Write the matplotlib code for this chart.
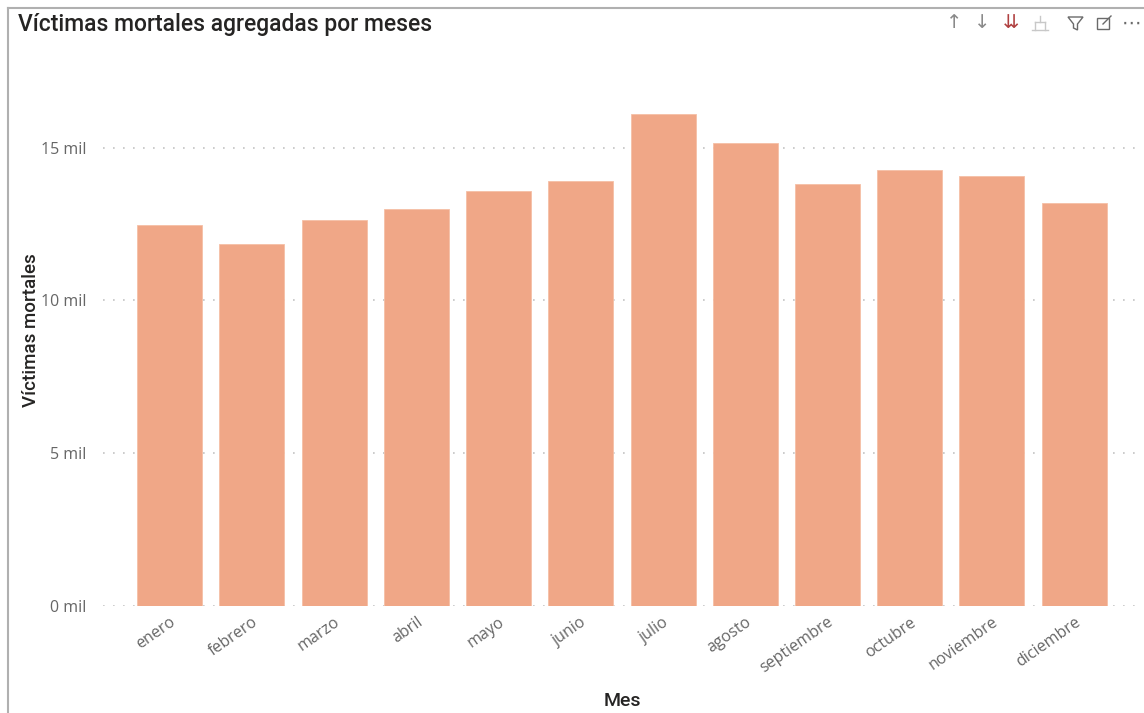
import matplotlib
matplotlib.use("Agg")
import matplotlib.pyplot as plt
from matplotlib.patches import Rectangle, Polygon
from matplotlib.lines import Line2D
from matplotlib.ticker import FuncFormatter, MultipleLocator

# Víctimas mortales por mes (miles)
meses = ["enero", "febrero", "marzo", "abril", "mayo", "junio", "julio",
         "agosto", "septiembre", "octubre", "noviembre", "diciembre"]
victimas = [12480, 11860, 12640, 13000, 13590, 13920, 16110,
            15160, 13820, 14250, 14080, 13200]

bar_color = "#F0A787"
tick_color = "#666666"
text_color = "#252423"
W, H = 1144, 713


def fx(px):
    return px / W


def fy(py):
    return 1 - py / H


fig = plt.figure(figsize=(11.44, 7.13), dpi=100)
fig.patch.set_facecolor("white")

# marco del visual
fig.add_artist(Line2D([fx(8), fx(8)], [0, fy(8)], transform=fig.transFigure, color="#b0b0b0", lw=1.5))
fig.add_artist(Line2D([fx(8), 1], [fy(8), fy(8)], transform=fig.transFigure, color="#b0b0b0", lw=1.5))

ax = fig.add_axes([fx(103), fy(606), (1140 - 103) / W, (606 - 62) / H])
x = range(len(meses))
ax.bar(x, victimas, width=0.79, color=bar_color, edgecolor="#F5BFA6", linewidth=0.6, zorder=2)

ax.set_xlim(-0.81, 11.8)
ax.set_ylim(0, 17800)
ax.yaxis.set_major_locator(MultipleLocator(5000))
ax.yaxis.set_major_formatter(FuncFormatter(lambda v, p: f"{int(v / 1000)} mil"))
ax.grid(axis="y", color="#c4c4c4", linestyle=(0, (1, 5)), linewidth=1.2, zorder=0)
ax.set_axisbelow(True)

for s in ax.spines.values():
    s.set_visible(False)
ax.tick_params(axis="both", length=0, colors=tick_color, labelsize=11.5)
ax.tick_params(axis="y", pad=12)
ax.tick_params(axis="x", pad=6)
ax.set_xticks(list(x))
ax.set_xticklabels(meses, rotation=35, ha="right", rotation_mode="anchor", fontfamily="Open Sans")
for lab in ax.get_yticklabels():
    lab.set_fontfamily("Open Sans")

# títulos de ejes
fig.text(fx(31), fy(330), "Víctimas mortales", rotation=90, fontsize=13.5, color=text_color,
         fontfamily="Roboto", fontweight="medium", ha="center", va="center")
fig.text(fx(622), fy(701), "Mes", fontsize=14, color=text_color, fontfamily="Roboto",
         fontweight="medium", ha="center", va="center")

fig.text(fx(18), fy(25), "Víctimas mortales agregadas por meses", fontsize=16.5,
         color=text_color, fontfamily="Roboto", fontweight="medium", va="center", ha="left")

# iconos de la cabecera
icon_y = fy(23)
for px, glyph, col in [(954, "↑", "#8a8a8a"), (982, "↓", "#8a8a8a"), (1011, "⇊", "#b04040"),
                       (1131, "⋯", "#6a6a6a")]:
    fig.text(fx(px), icon_y, glyph, fontsize=14, color=col, ha="center", va="center",
             fontfamily="DejaVu Sans")

# icono de jerarquía (gris claro)
for seg in [([1040, 1040], [16, 22]), ([1035, 1045], [22, 22]), ([1035, 1035], [22, 30]),
            ([1045, 1045], [22, 30]), ([1032, 1048], [30, 30])]:
    fig.add_artist(Line2D([fx(v) for v in seg[0]], [fy(v) for v in seg[1]],
                          transform=fig.transFigure, color="#c8c8c8", lw=1.0))

funnel = Polygon([[fx(1068), fy(17)], [fx(1083), fy(17)], [fx(1077.5), fy(24)],
                  [fx(1077.5), fy(30)], [fx(1073.5), fy(28)], [fx(1073.5), fy(24)]],
                 closed=True, fill=False, edgecolor="#6a6a6a", lw=1.0, transform=fig.transFigure)
fig.add_artist(funnel)
fig.add_artist(Rectangle((fx(1097), fy(29)), 12 / W, 11 / H, fill=False,
                         edgecolor="#6a6a6a", lw=1.0, transform=fig.transFigure))
fig.add_artist(Line2D([fx(1103), fx(1111)], [fy(24), fy(16)], transform=fig.transFigure,
                      color="#6a6a6a", lw=1.0))

fig.savefig("out.png", dpi=100, facecolor="white")
